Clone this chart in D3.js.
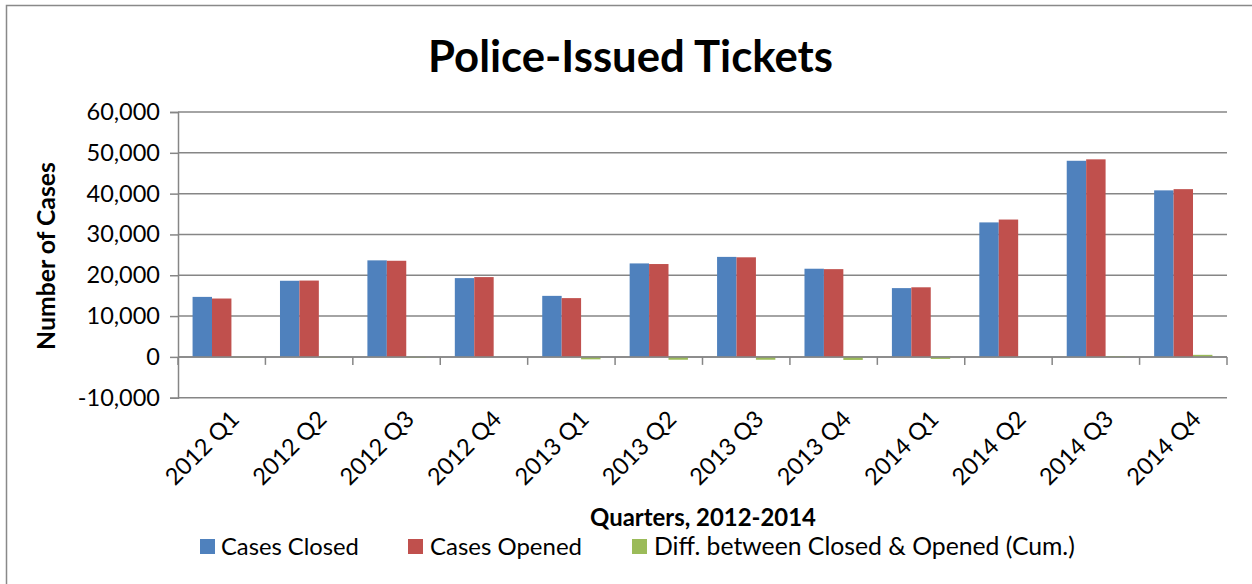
<!DOCTYPE html>
<html>
<head>
<meta charset="utf-8">
<script src="https://cdn.jsdelivr.net/npm/d3@7"></script>
<style>
  html, body { margin: 0; padding: 0; background: #fff; }
  svg { display: block; font-family: Lato, "Open Sans", sans-serif; }
</style>
</head>
<body>
<svg id="chart" width="1252" height="584"></svg>
<script>
const categories = ["2012 Q1","2012 Q2","2012 Q3","2012 Q4","2013 Q1","2013 Q2","2013 Q3","2013 Q4","2014 Q1","2014 Q2","2014 Q3","2014 Q4"];
const casesClosed = [14700, 18650, 23650, 19300, 14950, 22900, 24500, 21600, 16850, 32950, 48050, 40800];
const casesOpened = [14300, 18700, 23550, 19550, 14400, 22750, 24400, 21500, 17050, 33650, 48400, 41100];
const diffCum     = [-100, -150, -200, 0, -600, -700, -700, -750, -500, -30, 200, 500];
const seriesNames = ["Cases Closed", "Cases Opened", "Diff. between Closed & Opened (Cum.)"];
const yTicks = [-10000, 0, 10000, 20000, 30000, 40000, 50000, 60000];

(function () {
const colors = ["#4F81BD", "#C0504D", "#9BBB59"];
const gridColor = "#868686";
const series = [casesClosed, casesOpened, diffCum];

const svg = d3.select("#chart");
const pLeft = 178, pRight = 1227, pTop = 112, pBottom = 397.7;

// chart area border
svg.append("rect").attr("x", 6.5).attr("y", 5.5).attr("width", 1252).attr("height", 590)
  .attr("fill", "#fff").attr("stroke", "#898989").attr("stroke-width", 1.5);

const x = d3.scaleBand().domain(categories).range([pLeft, pRight]).padding(0);
const y = d3.scaleLinear().domain([-10000, 60000]).range([pBottom, pTop]);
const bw = x.bandwidth() / 4.5;

// gridlines
svg.append("g").selectAll("line").data(yTicks).join("line")
  .attr("x1", pLeft).attr("x2", pRight)
  .attr("y1", d => y(d)).attr("y2", d => y(d))
  .attr("stroke", gridColor).attr("stroke-width", 1.5);

// bars
series.forEach((vals, si) => {
  svg.append("g").selectAll("rect").data(vals).join("rect")
    .attr("x", (d, i) => x(categories[i]) + x.bandwidth() / 2 - 1.5 * bw + si * bw)
    .attr("width", bw)
    .attr("y", d => Math.min(y(d), y(0)))
    .attr("height", d => Math.abs(y(d) - y(0)))
    .attr("fill", colors[si]);
});

// y axis
const fmt = d3.format(",");
const yAxis = d3.axisLeft(y).tickValues(yTicks).tickFormat(d => fmt(d).replace("\u2212", "-")).tickSize(8).tickPadding(10);
const yg = svg.append("g").attr("transform", `translate(${pLeft},0)`).call(yAxis);
yg.select(".domain").attr("stroke", gridColor).attr("stroke-width", 1.5);
yg.selectAll(".tick line").attr("stroke", gridColor).attr("stroke-width", 1.5);
yg.selectAll(".tick text").attr("font-size", 23.5).attr("font-family", "Lato").attr("fill", "#000");

// x axis at zero
const boundaries = d3.range(categories.length + 1).map(i => pLeft + i * x.bandwidth());
svg.append("line").attr("x1", pLeft).attr("x2", pRight).attr("y1", y(0)).attr("y2", y(0))
  .attr("stroke", gridColor).attr("stroke-width", 1.5);
svg.append("g").selectAll("line").data(boundaries).join("line")
  .attr("x1", d => d).attr("x2", d => d)
  .attr("y1", y(0)).attr("y2", y(0) + 8)
  .attr("stroke", gridColor).attr("stroke-width", 1.5);

// x labels (low position)
svg.append("g").selectAll("text").data(categories).join("text")
  .attr("transform", d => `translate(${x(d) + x.bandwidth() / 2 + 6},${pBottom + 10}) rotate(-45)`)
  .attr("text-anchor", "end")
  .attr("dominant-baseline", "hanging")
  .attr("font-size", 23.5)
  .attr("fill", "#000")
  .text(d => d);

function fit(sel, w) {
  const n = sel.node();
  const cur = n.getComputedTextLength();
  const fs = parseFloat(sel.attr("font-size"));
  sel.attr("font-size", fs * w / cur);
}

// title
const title = svg.append("text").attr("x", 630.5).attr("y", 72).attr("text-anchor", "middle")
  .attr("font-weight", "bold").attr("font-size", 40).attr("fill", "#000").text("Police-Issued Tickets");
fit(title, 405);

// y title
const yt = svg.append("text").attr("transform", "translate(55,256) rotate(-90)").attr("text-anchor", "middle")
  .attr("font-weight", "bold").attr("font-size", 22).attr("fill", "#000").text("Number of Cases");
fit(yt, 188);

// x title
const xt = svg.append("text").attr("x", 703).attr("y", 526).attr("text-anchor", "middle")
  .attr("font-weight", "bold").attr("font-size", 22).attr("fill", "#000").text("Quarters, 2012-2014");
fit(xt, 226);

// legend
const legendPos = [{sx: 200, tx: 221, w: 138}, {sx: 408, tx: 430, w: 152}, {sx: 632, tx: 654, w: 421}];
seriesNames.forEach((name, i) => {
  const p = legendPos[i];
  svg.append("rect").attr("x", p.sx).attr("y", 539).attr("width", 15).attr("height", 15).attr("fill", colors[i]);
  const t = svg.append("text").attr("x", p.tx).attr("y", 555).attr("font-size", 23).attr("fill", "#000").text(name);
  fit(t, p.w);
});
})();
</script>
</body>
</html>
